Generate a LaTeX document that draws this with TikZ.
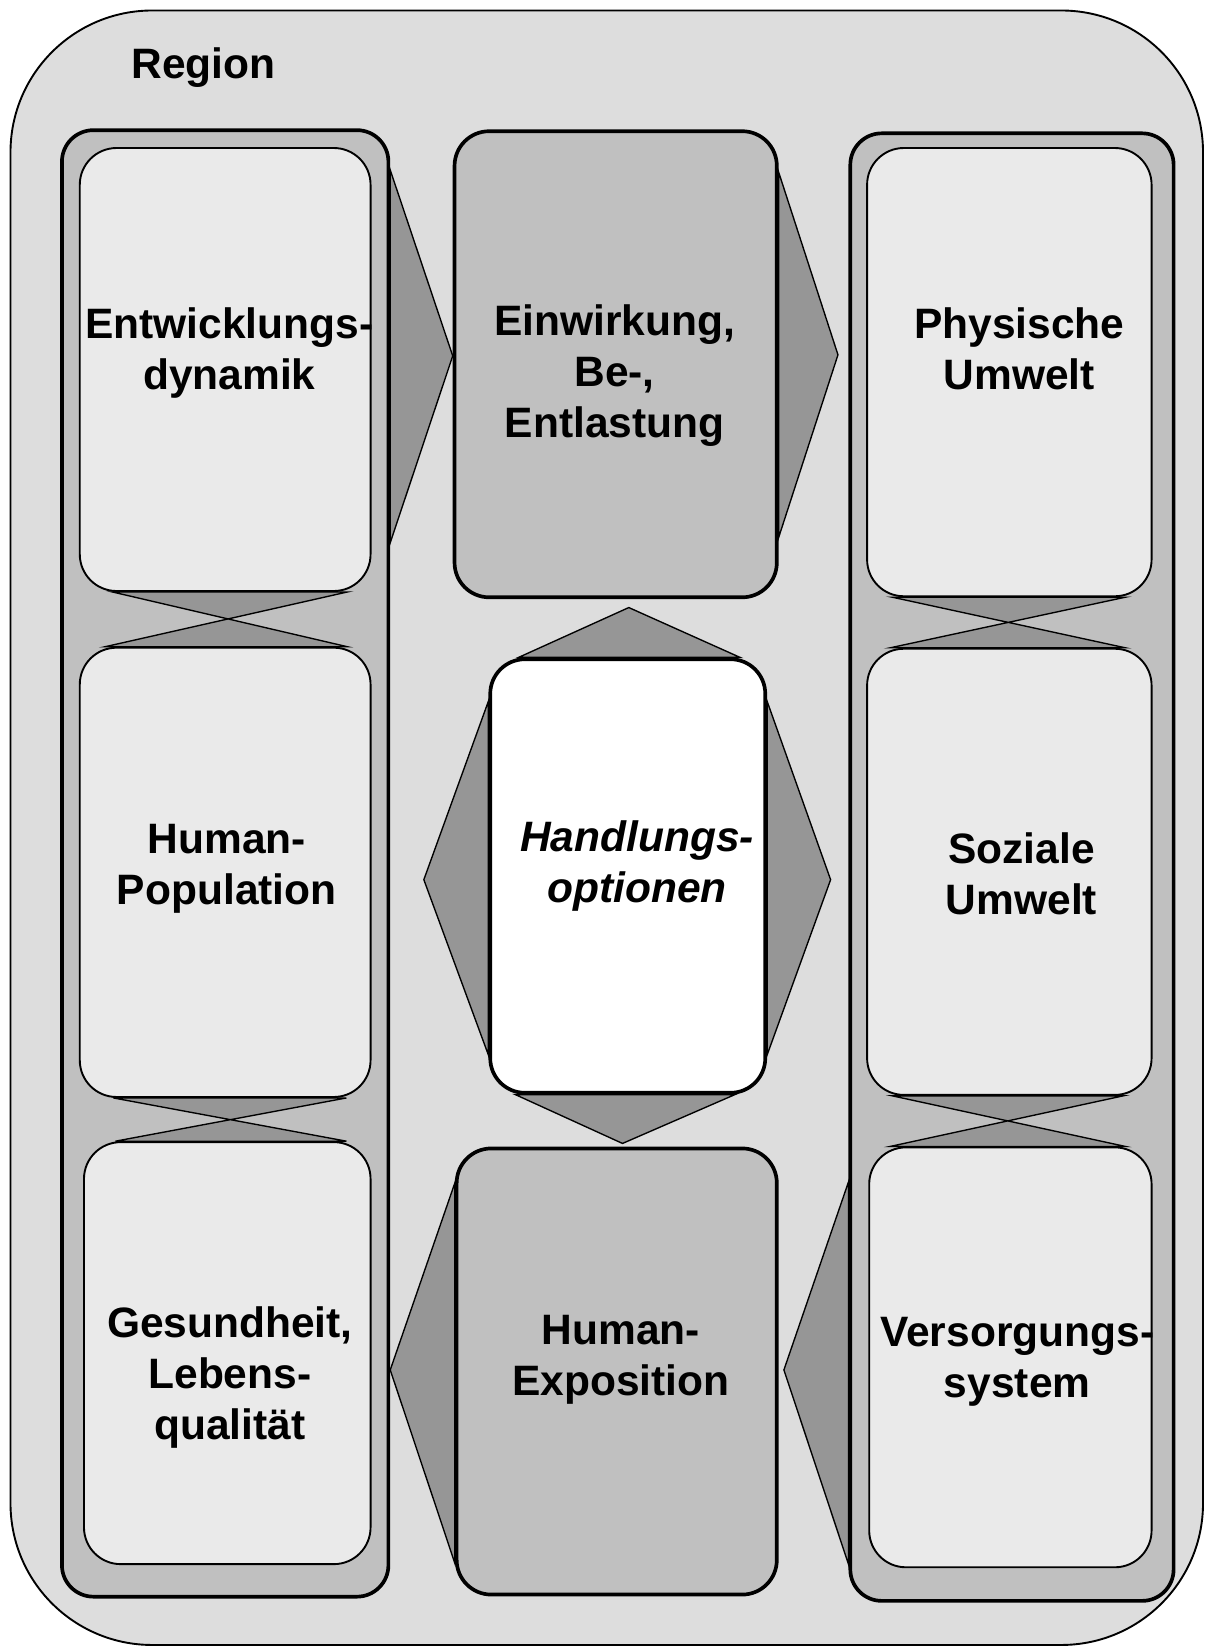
\documentclass[tikz,border=0pt]{standalone}
\usepackage{fontspec}
\setmainfont{Liberation Sans}
\usetikzlibrary{calc}
\definecolor{regiongray}{gray}{0.866}
\definecolor{colgray}{gray}{0.753}
\definecolor{innergray}{gray}{0.918}
\definecolor{arrowgray}{gray}{0.588}
\pgfdeclarelayer{back}
\pgfdeclarelayer{mid}
\pgfsetlayers{back,mid,main}
\begin{document}
\begin{tikzpicture}[x=1pt,y=-1pt,
  regionbox/.style={draw=black, line width=1.8pt, fill=regiongray, rounded corners=135pt, inner sep=0pt},
  colbox/.style={draw=black, line width=3.5pt, fill=colgray, rounded corners=30pt, inner sep=0pt},
  innerbox/.style={draw=black, line width=1.8pt, fill=innergray, rounded corners=35pt, inner sep=0pt},
  midbox/.style={draw=black, line width=3.5pt, fill=colgray, rounded corners=33pt, inner sep=0pt},
  optbox/.style={draw=black, line width=3.5pt, fill=white, rounded corners=33pt, inner sep=0pt},
  flow/.style={draw=black, line width=1.3pt, fill=arrowgray, line join=miter},
  lbl/.style={font=\bfseries\fontsize{40.5}{48.5}\selectfont, align=center, inner sep=0pt},
]
\useasboundingbox (0,0) rectangle (1148,1568);

\begin{pgfonlayer}{back}
\node[regionbox, minimum width=1136pt, minimum height=1557pt] (region) at (578,788.5) {};
\node[colbox, minimum width=311pt, minimum height=1397pt] (lcol) at (214.5,822.5) {};
\node[colbox, minimum width=308pt, minimum height=1398pt] (rcol) at (964,826) {};
\end{pgfonlayer}

% left column boxes
\node[innerbox, minimum width=277pt, minimum height=422pt] (entw) at (214.5,352) {};
\node[innerbox, minimum width=277pt, minimum height=428pt] (hpop) at (214.5,831) {};
\node[innerbox, minimum width=273pt, minimum height=402pt] (gesu) at (216.5,1289) {};
% middle column boxes
\node[midbox, minimum width=307pt, minimum height=444pt] (einw) at (586.5,347) {};
\node[optbox, minimum width=262pt, minimum height=413pt] (hand) at (598,834.5) {};
\node[midbox, minimum width=305pt, minimum height=425pt] (expo) at (587.5,1306.5) {};
% right column boxes
\node[innerbox, minimum width=271pt, minimum height=427pt] (phys) at (961.5,354.5) {};
\node[innerbox, minimum width=271pt, minimum height=425pt] (sozi) at (961.5,830.5) {};
\node[innerbox, minimum width=269pt, minimum height=400pt] (vers) at (962.5,1293) {};

% texts
\node[anchor=base west, font=\bfseries\fontsize{40.5}{48.5}\selectfont, inner sep=0pt] (tregion) at (125,74.5) {Region};
\node[lbl] (tentw) at (218.5,336.5) {Entwicklungs-\\dynamik};
\node[lbl] (thpop) at (216,828) {Human-\\Population};
\node[lbl] (tgesu) at (219,1312.5) {Gesundheit,\\Lebens-\\qualität};
\node[lbl] (teinw) at (585.5,357.5) {Einwirkung,\\Be-,\\Entlastung};
\node[lbl, font=\bfseries\itshape\fontsize{40.5}{48.5}\selectfont] (thand) at (607,825) {Handlungs-\\optionen};
\node[lbl] (texpo) at (591.5,1295) {Human-\\Exposition};
\node[lbl] (tphys) at (971,332) {Physische\\Umwelt};
\node[lbl] (tsozi) at (973,832.5) {Soziale\\Umwelt};
\node[lbl] (tvers) at (969,1297) {Versorgungs-\\system};

\begin{pgfonlayer}{mid}
% arrows between columns
\path[flow] (lcol.east |- 0,162) -- (einw.west |- 0,339) -- (lcol.east |- 0,517) -- cycle;
\path[flow] (einw.east |- 0,164) -- ($(rcol.west |- 0,338)+(-10,0)$) -- (einw.east |- 0,512) -- cycle;
\path[flow] (hand.north -| 494,0) -- ($(einw.south -| 599,0)+(0,8)$) -- (hand.north -| 705,0) -- cycle;
\path[flow] (hand.south -| 491,0) -- ($(expo.north -| 593,0)+(0,-3)$) -- (hand.south -| 700,0) -- cycle;
\path[flow] (hand.west |- 0,668) -- ($(lcol.east |- 0,838)+(32,0)$) -- (hand.west |- 0,1005) -- cycle;
\path[flow] (hand.east |- 0,668) -- ($(rcol.west |- 0,838)+(-17,0)$) -- (hand.east |- 0,1005) -- cycle;
\path[flow] (expo.west |- 0,1127) -- (lcol.east |- 0,1305) -- (expo.west |- 0,1489) -- cycle;
\path[flow] (rcol.west |- 0,1126) -- ($(expo.east |- 0,1305)+(5,0)$) -- (rcol.west |- 0,1490) -- cycle;
% bidirectional links inside the columns
\path[flow] (entw.south -| 107,0) -- (entw.south -| 331,0) -- (hpop.north -| 100,0) -- (hpop.north -| 331,0) -- cycle;
\path[flow] (hpop.south -| 108,0) -- (hpop.south -| 330,0) -- (gesu.north -| 110,0) -- (gesu.north -| 330,0) -- cycle;
\path[flow] (phys.south -| 850,0) -- (phys.south -| 1072,0) -- (sozi.north -| 848,0) -- (sozi.north -| 1072,0) -- cycle;
\path[flow] (sozi.south -| 850,0) -- (sozi.south -| 1070,0) -- (vers.north -| 848,0) -- (vers.north -| 1072,0) -- cycle;
\end{pgfonlayer}
\end{tikzpicture}
\end{document}
